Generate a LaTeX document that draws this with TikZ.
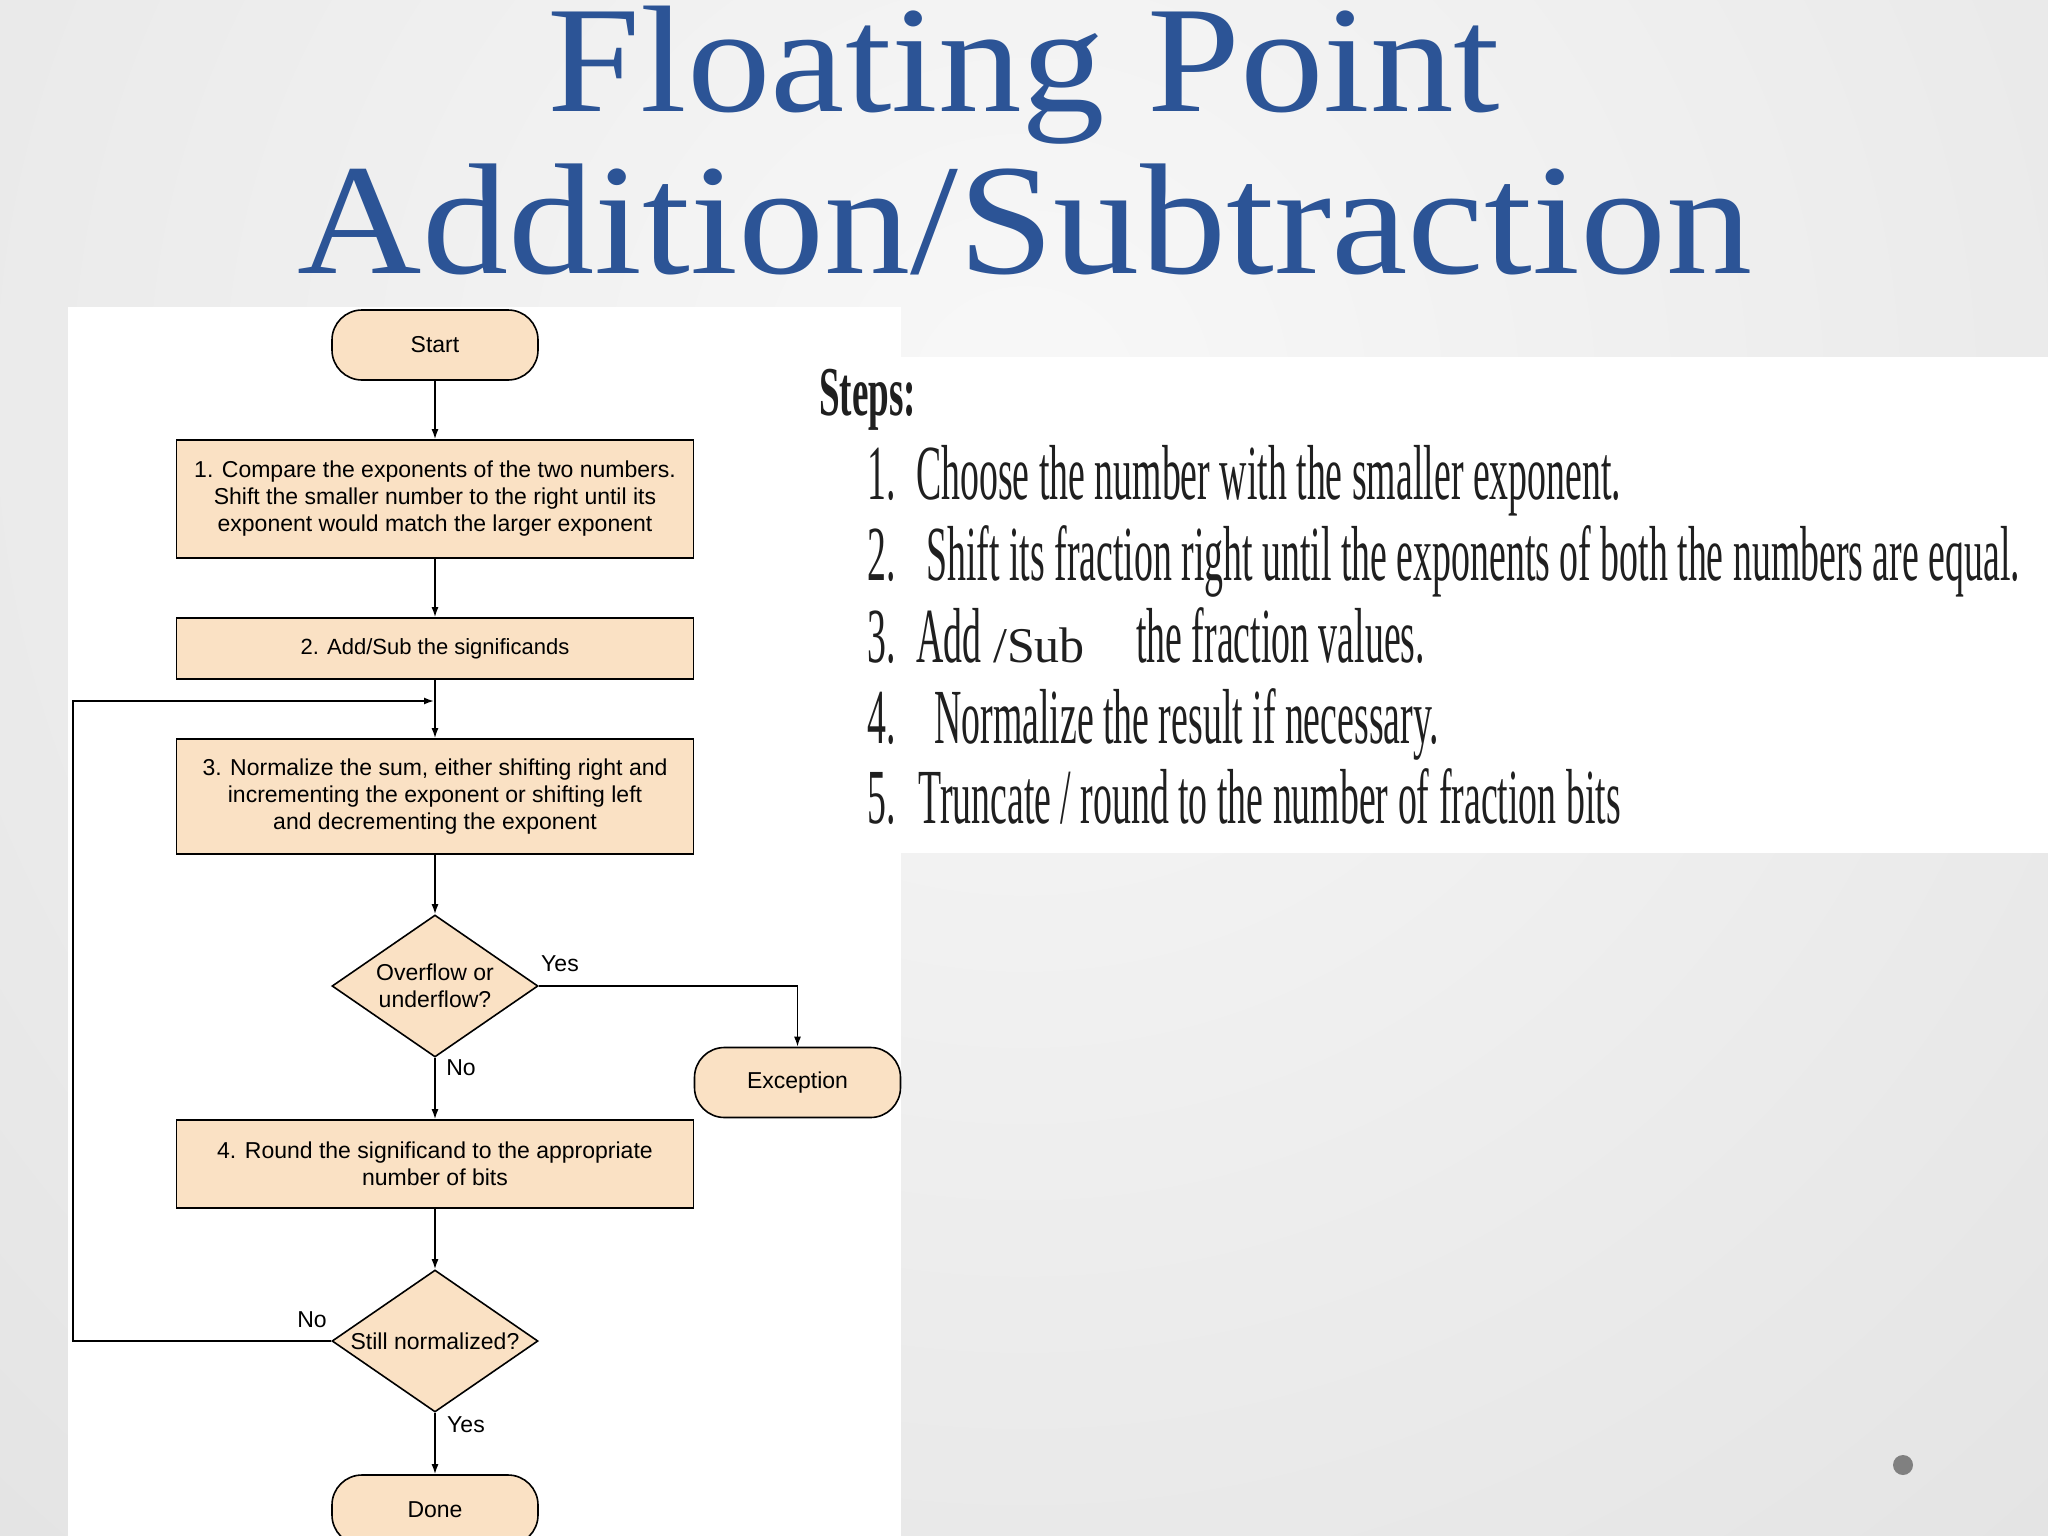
\documentclass[tikz,border=0pt]{standalone}
\usepackage{fontspec}
\setmainfont{Liberation Sans}
\newfontfamily\titlefont{Liberation Serif}
\newfontfamily\stepfont[FakeStretch=0.485]{Liberation Serif}
\newfontfamily\stepsboldfont[FakeStretch=0.53]{Liberation Serif}
\newfontfamily\subfont{Liberation Serif}
\usetikzlibrary{shapes.geometric,arrows.meta}
\definecolor{titleblue}{RGB}{44,84,150}
\definecolor{peach}{RGB}{250,225,196}
\definecolor{bginner}{RGB}{248,248,248}
\definecolor{bgouter}{RGB}{206,206,206}
\tikzset{
 flow/.style={draw=black, line width=1.6pt, fill=peach, font=\fontsize{23}{27}\selectfont, align=center},
 procbox/.style={flow, rectangle, minimum width=517pt, inner sep=0pt},
 termbox/.style={flow, rectangle, rounded corners=30pt, minimum width=206pt, minimum height=70pt, inner sep=0pt},
 decbox/.style={flow, diamond, aspect=1.45, minimum width=206pt, minimum height=142pt, inner sep=0pt},
 conn/.style={draw=black, line width=1.6pt, -{Latex[length=10pt,width=7pt]}},
 lbl/.style={font=\fontsize{23}{27}\selectfont, inner sep=0pt},
 steptxt/.style={anchor=base west, inner sep=0pt, text=black!88, font=\stepfont\fontsize{78}{80}\selectfont},
 titletxt/.style={anchor=base, inner sep=0pt, text=titleblue, font=\titlefont\fontsize{158}{160}\selectfont},
}
\begin{document}
\begin{tikzpicture}[x=1pt,y=-1pt]
\useasboundingbox (0,0) rectangle (2048,1536);
% background
\begin{scope}
\clip (0,0) rectangle (2048,1536);
\shade[inner color=bginner, outer color=bgouter] (1024,400) circle (3200);
\end{scope}
% panels
\fill[white] (68,307) rectangle (901,1536);
\fill[white] (780,357) rectangle (2048,853);
% title
\node[titletxt, font=\titlefont\fontsize{152}{156}\selectfont] (t1) at (1024,112) {\scalebox{1.1}[1]{Floating Point}};
\node[titletxt] (t2) at (1025,273) {\scalebox{1.09}[1]{Addition/Subtraction}};
% flowchart
\node[termbox] (start) at (435,345) {Start};
\node[procbox, minimum height=118pt] (b1) at (435,499) {1. Compare the exponents of the two numbers.\\Shift the smaller number to the right until its\\exponent would match the larger exponent};
\node[procbox, minimum height=61pt, font=\fontsize{22}{26}\selectfont] (b2) at (435,648.5) {2. Add/Sub the significands};
\node[procbox, minimum height=115pt] (b3) at (435,796.5) {3. Normalize the sum, either shifting right and\\incrementing the exponent or shifting left\\and decrementing the exponent};
\node[decbox] (d1) at (435,986) {Overflow or\\underflow?};
\node[termbox] (exc) at (797.5,1082.5) {Exception};
\node[procbox, minimum height=88pt] (b4) at (435,1164) {4. Round the significand to the appropriate\\number of bits};
\node[decbox] (d2) at (435,1341) {Still normalized?};
\node[termbox] (done) at (435,1510) {Done};
\coordinate (lb) at (73,1341);
\coordinate (lt) at (73,701);
\coordinate (j) at (434,701);
\draw[conn] (start.south) -- (b1.north);
\draw[conn] (b1.south) -- (b2.north);
\draw[conn] (b2.south) -- (b3.north);
\draw[conn] (b3.south) -- (d1.north);
\draw[conn] (d1.south) -- (b4.north);
\draw[conn] (d1.east) -| (exc.north);
\draw[conn] (b4.south) -- (d2.north);
\draw[conn] (d2.south) -- (done.north);
\draw[conn] (d2.west) -- (lb) -- (lt) -- (j);
\node[lbl] (y1) at (560,964) {Yes};
\node[lbl] (n1) at (461,1068) {No};
\node[lbl] (n2) at (312,1320) {No};
\node[lbl] (y2) at (466,1425) {Yes};
% steps
\node[anchor=base west, inner sep=0pt, text=black!88, font=\stepsboldfont\bfseries\fontsize{70}{72}\selectfont] (steps) at (819,415) {Steps:};
\node[steptxt] (s1n) at (867,499) {1.};
\node[steptxt] (s1) at (916,499) {Choose the number with the smaller exponent.};
\node[steptxt] (s2n) at (867,580) {2.};
\node[steptxt] (s2) at (926,580) {Shift its fraction right until the exponents of both the numbers are equal.};
\node[steptxt] (s3n) at (867,662) {3.};
\node[steptxt] (s3a) at (916,662) {Add};
\node[anchor=base west, inner sep=0pt, text=black!88, font=\subfont\fontsize{50}{52}\selectfont] (s3b) at (993,662) {/Sub};
\node[steptxt] (s3c) at (1136,662) {the fraction values.};
\node[steptxt] (s4n) at (867,743) {4.};
\node[steptxt] (s4) at (934,743) {Normalize the result if necessary.};
\node[steptxt] (s5n) at (867,823) {5.};
\node[steptxt] (s5) at (918,823) {Truncate / round to the number of fraction bits};
% dot
\fill[black!50] (1903,1465) circle (10);
\end{tikzpicture}
\end{document}
